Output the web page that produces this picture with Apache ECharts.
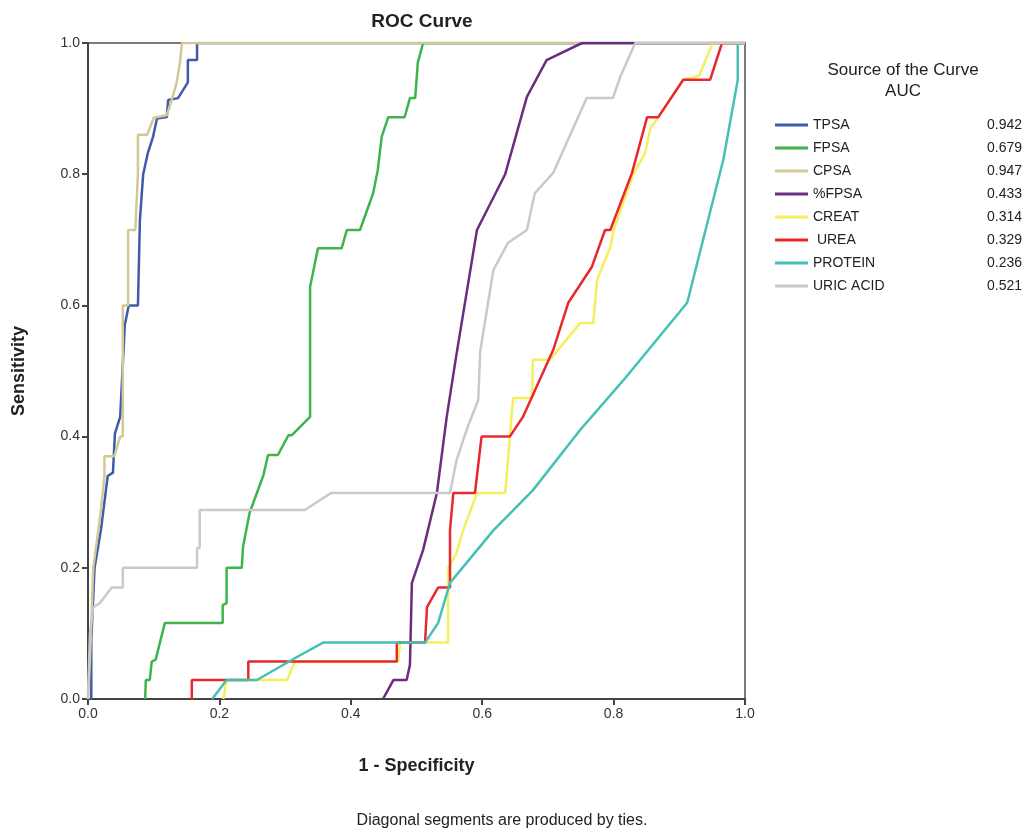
<!DOCTYPE html>
<html>
<head>
<meta charset="utf-8">
<script src="https://cdn.jsdelivr.net/npm/echarts@6/dist/echarts.min.js"></script>
<style>
  html, body { margin: 0; padding: 0; background: #fff; }
  #chart { width: 1029px; height: 833px; }
</style>
</head>
<body>
<div id="chart"></div>
<script>
// curve names and their AUC, as listed in the legend
const curveNames = ['TPSA', 'FPSA', 'CPSA', '%FPSA', 'CREAT', ' UREA', 'PROTEIN', 'URIC ACID']
const aucValues = ['0.942', '0.679', '0.947', '0.433', '0.314', '0.329', '0.236', '0.521']
const curveColors = ['#3f5aa9', '#3db54a', '#d3c996', '#6b2d80', '#f6ef5c', '#e8282e', '#43c1b6', '#c9c9c9']

// [1 - specificity, sensitivity] points
const tpsa = [[0.005, 0], [0.005, 0.09], [0.01, 0.2], [0.02, 0.26], [0.03, 0.34], [0.038, 0.345], [0.041, 0.405],
  [0.049, 0.43], [0.056, 0.57], [0.062, 0.6], [0.076, 0.6], [0.079, 0.73], [0.084, 0.8], [0.091, 0.832],
  [0.099, 0.857], [0.105, 0.885], [0.12, 0.887], [0.122, 0.913], [0.137, 0.916], [0.152, 0.94], [0.152, 0.974],
  [0.166, 0.974], [0.166, 1], [1, 1]]
const fpsa = [[0.087, 0], [0.088, 0.029], [0.094, 0.029], [0.097, 0.057], [0.103, 0.06], [0.117, 0.116],
  [0.205, 0.116], [0.205, 0.143], [0.211, 0.146], [0.211, 0.2], [0.234, 0.2], [0.236, 0.232], [0.246, 0.284],
  [0.267, 0.341], [0.27, 0.343], [0.274, 0.372], [0.289, 0.372], [0.305, 0.402], [0.31, 0.402], [0.338, 0.43],
  [0.338, 0.628], [0.35, 0.687], [0.386, 0.687], [0.394, 0.715], [0.414, 0.715], [0.434, 0.771], [0.441, 0.806],
  [0.447, 0.857], [0.457, 0.887], [0.482, 0.887], [0.49, 0.916], [0.498, 0.916], [0.502, 0.97], [0.51, 1], [1, 1]]
const cpsa = [[0, 0], [0.003, 0.06], [0.008, 0.2], [0.012, 0.23], [0.016, 0.26], [0.02, 0.29], [0.025, 0.34],
  [0.025, 0.37], [0.04, 0.37], [0.049, 0.4], [0.053, 0.4], [0.053, 0.6], [0.061, 0.6], [0.061, 0.715],
  [0.072, 0.715], [0.076, 0.8], [0.076, 0.86], [0.09, 0.86], [0.1, 0.886], [0.12, 0.89], [0.128, 0.915],
  [0.135, 0.94], [0.14, 0.97], [0.143, 1], [1, 1]]
const pctFpsa = [[0.449, 0], [0.465, 0.029], [0.485, 0.029], [0.49, 0.052], [0.493, 0.177], [0.51, 0.227],
  [0.531, 0.314], [0.546, 0.43], [0.56, 0.52], [0.592, 0.715], [0.635, 0.8], [0.668, 0.918], [0.698, 0.974],
  [0.752, 1], [1, 1]]
const creat = [[0.206, 0], [0.211, 0.029], [0.303, 0.029], [0.315, 0.057], [0.472, 0.057], [0.475, 0.086],
  [0.548, 0.086], [0.548, 0.2], [0.56, 0.22], [0.571, 0.257], [0.592, 0.314], [0.635, 0.314], [0.647, 0.459],
  [0.676, 0.459], [0.677, 0.517], [0.703, 0.517], [0.749, 0.573], [0.769, 0.573], [0.775, 0.639],
  [0.795, 0.689], [0.8, 0.715], [0.83, 0.8], [0.848, 0.832], [0.856, 0.87], [0.87, 0.89], [0.906, 0.944],
  [0.93, 0.95], [0.951, 1], [1, 1]]
const urea = [[0.158, 0], [0.158, 0.029], [0.244, 0.029], [0.244, 0.057], [0.47, 0.057], [0.47, 0.086],
  [0.513, 0.086], [0.516, 0.14], [0.533, 0.17], [0.551, 0.17], [0.551, 0.257], [0.556, 0.314], [0.589, 0.314],
  [0.599, 0.4], [0.642, 0.4], [0.662, 0.43], [0.708, 0.532], [0.731, 0.604], [0.767, 0.659], [0.787, 0.715],
  [0.795, 0.715], [0.828, 0.802], [0.851, 0.887], [0.868, 0.887], [0.906, 0.944], [0.947, 0.944],
  [0.965, 1], [1, 1]]
const protein = [[0.189, 0], [0.211, 0.029], [0.257, 0.029], [0.318, 0.064], [0.358, 0.086], [0.513, 0.086],
  [0.533, 0.116], [0.551, 0.177], [0.617, 0.257], [0.677, 0.318], [0.749, 0.41], [0.815, 0.486],
  [0.912, 0.604], [0.967, 0.822], [0.989, 0.944], [0.989, 1], [1, 1]]
const uricAcid = [[0, 0], [0.003, 0.1], [0.008, 0.14], [0.018, 0.146], [0.036, 0.17], [0.053, 0.17],
  [0.053, 0.2], [0.166, 0.2], [0.166, 0.23], [0.17, 0.23], [0.17, 0.288], [0.33, 0.288], [0.37, 0.314],
  [0.551, 0.314], [0.561, 0.364], [0.578, 0.415], [0.594, 0.456], [0.597, 0.53], [0.617, 0.654],
  [0.639, 0.695], [0.668, 0.715], [0.68, 0.771], [0.708, 0.802], [0.759, 0.916], [0.799, 0.916],
  [0.81, 0.948], [0.833, 1], [1, 1]]

const curveData = [tpsa, fpsa, cpsa, pctFpsa, creat, urea, protein, uricAcid]

const chart = echarts.init(document.getElementById('chart'))
const font = 'Liberation Sans, Arial, sans-serif'

const option = {
  animation: false,
  backgroundColor: '#fff',
  textStyle: { fontFamily: font },
  title: [
    { text: 'ROC Curve', left: 417, top: 7, textAlign: 'center',
      textStyle: { fontSize: 19, fontWeight: 'bold', color: '#222', fontFamily: font } },
    { text: 'Source of the Curve\nAUC', left: 898, top: 55, textAlign: 'center',
      textStyle: { fontSize: 17, fontWeight: 'normal', color: '#222', lineHeight: 21, fontFamily: font } },
    { text: 'Diagonal segments are produced by ties.', left: 497, top: 808, textAlign: 'center',
      textStyle: { fontSize: 16, fontWeight: 'normal', color: '#222', fontFamily: font } }
  ],
  legend: {
    orient: 'vertical',
    left: 775,
    top: 118,
    padding: 0,
    itemWidth: 33,
    itemHeight: 3,
    itemGap: 9,
    icon: 'rect',
    data: curveNames,
    formatter: function(name) {
      return '{n|' + name + '}{v|' + aucValues[curveNames.indexOf(name)] + '}'
    },
    textStyle: {
      fontSize: 14,
      color: '#222',
      rich: {
        n: { width: 162, fontSize: 14, lineHeight: 16, color: '#222' },
        v: { width: 47, align: 'right', fontSize: 14, lineHeight: 16, color: '#222' }
      }
    }
  },
  grid: {
    left: 88, right: 284, top: 43, bottom: 134,
    show: true, borderColor: '#7a7a7a', borderWidth: 2
  },
  xAxis: {
    type: 'value', min: 0, max: 1, interval: 0.2,
    name: '1 - Specificity', nameLocation: 'middle', nameGap: 58,
    nameTextStyle: { fontSize: 18, fontWeight: 'bold', color: '#222' },
    axisLine: { lineStyle: { color: '#444', width: 2 } },
    axisTick: { length: 6, lineStyle: { color: '#444', width: 2 } },
    axisLabel: { fontSize: 14, color: '#333', margin: 8, formatter: v => v.toFixed(1) },
    splitLine: { show: false }
  },
  yAxis: {
    type: 'value', min: 0, max: 1, interval: 0.2,
    name: 'Sensitivity', nameLocation: 'middle', nameGap: 60,
    nameTextStyle: { fontSize: 18, fontWeight: 'bold', color: '#222' },
    axisLine: { lineStyle: { color: '#444', width: 2 } },
    axisTick: { length: 6, lineStyle: { color: '#444', width: 2 } },
    axisLabel: { fontSize: 14, color: '#333', margin: 8, formatter: v => v.toFixed(1) },
    splitLine: { show: false }
  },
  series: curveNames.map((name, i) => ({
    name: name,
    type: 'line',
    data: curveData[i],
    showSymbol: false,
    symbol: 'none',
    color: curveColors[i],
    lineStyle: { width: 2.5, color: curveColors[i] },
    z: 2 + i
  }))
}

chart.setOption(option)
</script>
</body>
</html>
